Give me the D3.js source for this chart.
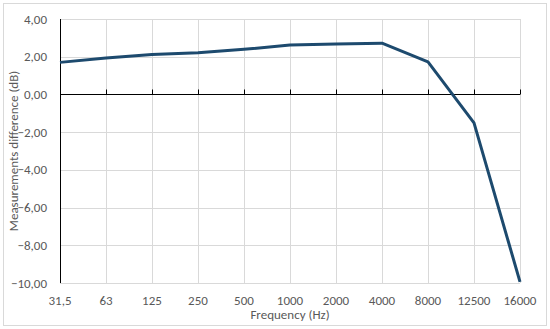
<!DOCTYPE html>
<html>
<head>
<meta charset="utf-8">
<script src="https://cdn.jsdelivr.net/npm/d3@7"></script>
<style>
	body { margin: 0; background: #fff; }
	svg text { font-family: Carlito, 'Open Sans', sans-serif; fill: #595959; }
</style>
</head>
<body>
<div id="canvas"></div>
<script>
// Data
var frequencies = ['31,5', '63', '125', '250', '500', '1000', '2000', '4000', '8000', '12500', '16000'],
	differences = [1.70, 1.93, 2.12, 2.21, 2.39, 2.62, 2.67, 2.72, 1.73, -1.51, -9.94],
	yTicks = [4, 2, 0, -2, -4, -6, -8, -10];

var outerWidth = 550,
	outerHeight = 329,
	margin = { top: 19, right: 30, bottom: 46, left: 60 },
	width = outerWidth - margin.left - margin.right,
	height = outerHeight - margin.top - margin.bottom;

var svg = d3.select('#canvas').append('svg')
	.attr('width', outerWidth)
	.attr('height', outerHeight);

// outer border
svg.append('rect')
	.attr('x', 3.5).attr('y', 3.5)
	.attr('width', 543).attr('height', 322)
	.attr('fill', '#fff')
	.attr('stroke', '#d9d9d9');

var g = svg.append('g')
	.attr('transform', 'translate(' + margin.left + ',' + margin.top + ')');

var x = d3.scalePoint().domain(frequencies).range([0, width]),
	y = d3.scaleLinear().domain([-10, 4]).range([height, 0]);

var fmt = function(d) { return d3.format('.2f')(d).replace('.', ','); };

// gridlines
g.append('g').selectAll('line').data(yTicks).join('line')
	.attr('x1', 0).attr('x2', width)
	.attr('y1', function(d) { return Math.round(y(d)) + 0.5; })
	.attr('y2', function(d) { return Math.round(y(d)) + 0.5; })
	.attr('stroke', '#d9d9d9');
g.append('g').selectAll('line').data(frequencies.slice(1)).join('line')
	.attr('x1', function(d) { return Math.round(x(d)) + 0.5; })
	.attr('x2', function(d) { return Math.round(x(d)) + 0.5; })
	.attr('y1', 0).attr('y2', height)
	.attr('stroke', '#d9d9d9');

// zero axis with ticks
var zeroY = Math.round(y(0)) + 0.5;
g.append('line')
	.attr('x1', 0).attr('x2', width)
	.attr('y1', zeroY).attr('y2', zeroY)
	.attr('stroke', '#000');
g.append('g').selectAll('line').data(frequencies).join('line')
	.attr('x1', function(d) { return Math.round(x(d)) + 0.5; })
	.attr('x2', function(d) { return Math.round(x(d)) + 0.5; })
	.attr('y1', zeroY - 5).attr('y2', zeroY)
	.attr('stroke', '#000');

// left axis line
g.append('line')
	.attr('x1', 0.5).attr('x2', 0.5)
	.attr('y1', 0).attr('y2', height)
	.attr('stroke', '#000');

// y labels
g.append('g').selectAll('text').data(yTicks).join('text')
	.attr('x', -13)
	.attr('y', function(d) { return y(d); })
	.attr('dy', '0.35em')
	.attr('text-anchor', 'end')
	.attr('font-size', 13)
	.text(fmt);

// x labels
g.append('g').selectAll('text').data(frequencies).join('text')
	.attr('x', function(d) { return x(d); })
	.attr('y', height + 17)
	.attr('dy', '0.35em')
	.attr('text-anchor', 'middle')
	.attr('font-size', 13)
	.text(function(d) { return d; });

// axis titles
svg.append('text')
	.attr('x', margin.left + width / 2)
	.attr('y', 314)
	.attr('dy', '0.35em')
	.attr('text-anchor', 'middle')
	.attr('font-size', 13)
	.text('Frequency (Hz)');
svg.append('text')
	.attr('transform', 'translate(13,' + (margin.top + height / 2) + ') rotate(-90)')
	.attr('dy', '0.35em')
	.attr('text-anchor', 'middle')
	.attr('font-size', 13)
	.text('Measurements difference (dB)');

// series line
var line = d3.line()
	.x(function(d, i) { return x(frequencies[i]); })
	.y(function(d) { return y(d); });
g.append('path')
	.datum(differences)
	.attr('d', line)
	.attr('fill', 'none')
	.attr('stroke', '#1d4a6e')
	.attr('stroke-width', 3)
	.attr('stroke-linejoin', 'round');
</script>
</body>
</html>
